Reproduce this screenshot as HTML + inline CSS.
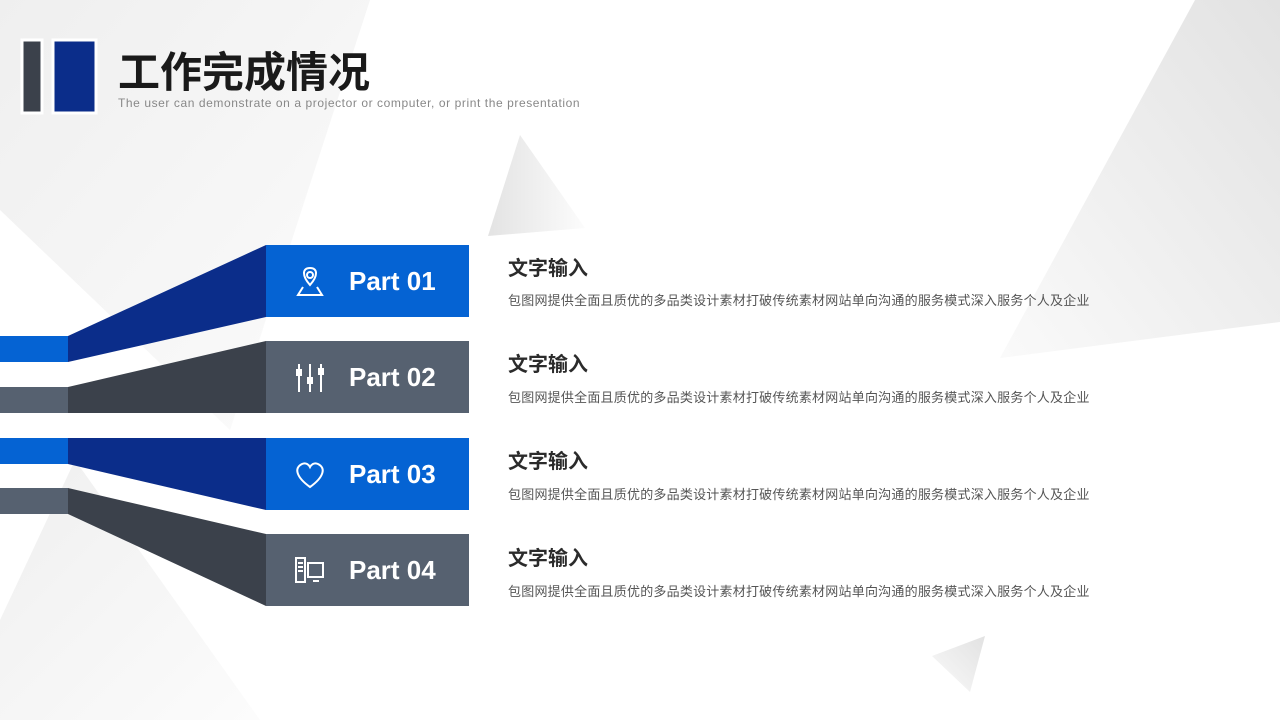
<!DOCTYPE html>
<html><head><meta charset="utf-8"><style>
body{margin:0;width:1280px;height:720px;overflow:hidden;background:#fff;font-family:"Liberation Sans","Noto Sans CJK SC",sans-serif;position:relative}
svg{position:absolute;left:0;top:0}
.t{position:absolute;left:508px;color:#2b2b2b;font-weight:bold;font-size:20px}
.d{position:absolute;left:508px;color:#555;font-size:13px;letter-spacing:0.22px}
.p{position:absolute;left:349px;color:#fff;font-weight:bold;font-size:26px;font-family:"Liberation Sans",sans-serif}
</style></head><body>
<svg width="1280" height="720">
<defs>
<linearGradient id="g1" x1="0" y1="0" x2="1" y2="1"><stop offset="0" stop-color="#efefef"/><stop offset="1" stop-color="#fcfcfc"/></linearGradient>
<linearGradient id="g2" x1="1" y1="0" x2="0" y2="1"><stop offset="0" stop-color="#e2e2e2"/><stop offset="1" stop-color="#fafafa"/></linearGradient>
<linearGradient id="g3" x1="0" y1="0" x2="1" y2="0"><stop offset="0" stop-color="#e3e3e3"/><stop offset="1" stop-color="#fcfcfc"/></linearGradient>
</defs>
<polygon points="0,0 370,0 230,430 0,210" fill="url(#g1)"/>
<polygon points="1195,0 1280,0 1280,322 1000,358" fill="url(#g2)"/>
<polygon points="520,135 488,236 585,228" fill="url(#g3)"/>
<polygon points="985,636 932,656 970,692" fill="url(#g2)"/>
<polygon points="0,620 75,460 260,720 0,720" fill="url(#g1)"/>
<rect x="22" y="40" width="20" height="73" fill="#3b414b" stroke="#fff" stroke-width="3"/>
<rect x="53" y="40" width="43" height="73" fill="#0b2d8a" stroke="#fff" stroke-width="3"/>
<rect x="0" y="336" width="68" height="26" fill="#0563d3"/>
<rect x="0" y="387" width="68" height="26" fill="#566170"/>
<rect x="0" y="438" width="68" height="26" fill="#0563d3"/>
<rect x="0" y="488" width="68" height="26" fill="#566170"/>
<polygon points="68,336 266,245 266,317 68,362" fill="#0b2d8a"/>
<polygon points="68,387 266,341 266,413 68,413" fill="#3b414b"/>
<polygon points="68,438 266,438 266,510 68,464" fill="#0b2d8a"/>
<polygon points="68,488 266,534 266,606 68,514" fill="#3b414b"/>
<rect x="266" y="245" width="203" height="72" fill="#0563d3"/>
<rect x="266" y="341" width="203" height="72" fill="#566170"/>
<rect x="266" y="438" width="203" height="72" fill="#0563d3"/>
<rect x="266" y="534" width="203" height="72" fill="#566170"/>
<g fill="none" stroke="#fff" stroke-width="2">
<path d="M310 285 C302 276 302 268 310 268 C318 268 318 276 310 285Z"/><circle cx="310" cy="275" r="3"/><path d="M303 287 L298 295 L322 295 L317 287"/>
<path d="M299 364v28M310 364v28M321 364v28"/>
<path d="M310 487 C296 477 294 468 302 464 C306 462 309 465 310 467 C311 465 314 462 318 464 C326 468 324 477 310 487Z"/>
<rect x="296" y="558" width="9" height="24"/><path d="M298 563h5M298 567h5M298 571h5"/><rect x="308" y="563" width="15" height="14"/><path d="M313 581h6"/>
</g>
<g fill="#fff"><rect x="296" y="369" width="6" height="7"/><rect x="307" y="377" width="6" height="7"/><rect x="318" y="368" width="6" height="7"/></g>
</svg>
<div style="position:absolute;left:118px;top:42px;font-size:42px;font-weight:bold;color:#1a1a1a;font-family:'Noto Sans CJK SC',sans-serif;line-height:56px">工作完成情况</div>
<div style="position:absolute;left:118px;top:96px;font-size:12px;color:#888;letter-spacing:0.58px">The user can demonstrate on a projector or computer, or print the presentation</div>
<div class="p" style="top:266px">Part 01</div>
<div class="p" style="top:362px">Part 02</div>
<div class="p" style="top:459px">Part 03</div>
<div class="p" style="top:555px">Part 04</div>
<div class="t" style="top:252px">文字输入</div><div class="d" style="top:290px">包图网提供全面且质优的多品类设计素材打破传统素材网站单向沟通的服务模式深入服务个人及企业</div>
<div class="t" style="top:348px">文字输入</div><div class="d" style="top:387px">包图网提供全面且质优的多品类设计素材打破传统素材网站单向沟通的服务模式深入服务个人及企业</div>
<div class="t" style="top:445px">文字输入</div><div class="d" style="top:484px">包图网提供全面且质优的多品类设计素材打破传统素材网站单向沟通的服务模式深入服务个人及企业</div>
<div class="t" style="top:542px">文字输入</div><div class="d" style="top:581px">包图网提供全面且质优的多品类设计素材打破传统素材网站单向沟通的服务模式深入服务个人及企业</div>
</body></html>
